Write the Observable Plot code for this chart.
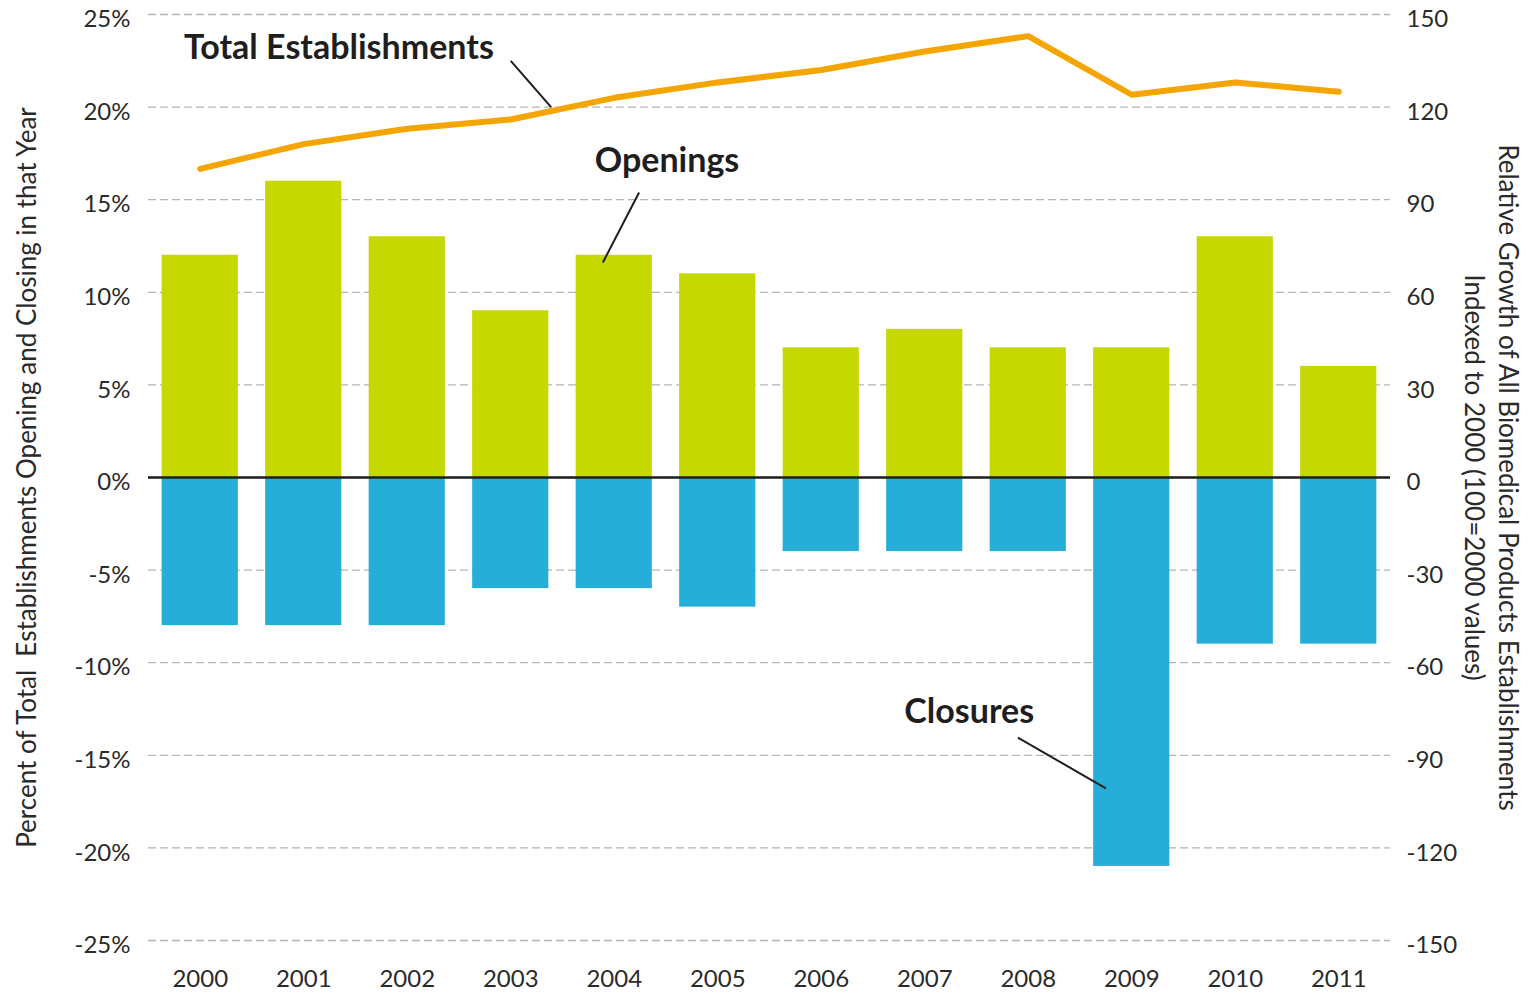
<!DOCTYPE html>
<html>
<head>
<meta charset="utf-8">
<script src="https://cdn.jsdelivr.net/npm/d3@7"></script>
<script src="https://cdn.jsdelivr.net/npm/@observablehq/plot@0.6"></script>
<style>
  html, body { margin: 0; padding: 0; background: #fff; }
  #chart svg { display: block; }
</style>
</head>
<body>
<div id="chart"></div>
<script>
// ---- Data ----
const years = [2000, 2001, 2002, 2003, 2004, 2005, 2006, 2007, 2008, 2009, 2010, 2011];
const openings = [12, 16, 13, 9, 12, 11, 7, 8, 7, 7, 13, 6];          // % of total establishments
const closures = [-8, -8, -8, -6, -6, -7, -4, -4, -4, -21, -9, -9];   // % of total establishments
const totalIndex = [100, 108, 113, 116, 123, 128, 132, 138, 143, 124, 128, 125]; // index, 2000 = 100
const leftTicks = [25, 20, 15, 10, 5, 0, -5, -10, -15, -20, -25];
const rightTicks = [150, 120, 90, 60, 30, 0, -30, -60, -90, -120, -150];
const rightPerLeft = 6; // 30 index points per 5 percentage points

const leftTitle = "Percent of Total  Establishments Opening and Closing in that Year";
const rightTitle1 = "Relative Growth of All Biomedical Products Establishments";
const rightTitle2 = "Indexed to 2000 (100=2000 values)";

const barData = years.flatMap((y, i) => [
  {year: y, value: openings[i], kind: "Openings"},
  {year: y, value: closures[i], kind: "Closures"}
]);
const lineData = years.map((y, i) => ({year: y, index: totalIndex[i]}));

// annotation labels (data coordinates)
const notes = [
  {text: "Total Establishments", x: 2001.34, y: 23.2},
  {text: "Openings", x: 2004.51, y: 17.06},
  {text: "Closures", x: 2007.43, y: -12.69}
];
const leaders = [
  {x1: 2003.0, y1: 22.5, x2: 2003.39, y2: 20.0},
  {x1: 2004.24, y1: 15.39, x2: 2003.89, y2: 11.61},
  {x1: 2007.9, y1: -14.04, x2: 2008.75, y2: -16.79}
];

const font = "Lato, 'Open Sans', sans-serif";
const half = 0.368;

const chart = Plot.plot({
  width: 1530,
  height: 995,
  marginLeft: 148,
  marginRight: 140,
  marginTop: 14,
  marginBottom: 55,
  style: {fontFamily: font, fontSize: "24px", color: "#2a2a2a", background: "#fff"},
  x: {domain: [1999.5, 2011.5], axis: null},
  y: {domain: [-25, 25], axis: null},
  marks: [
    Plot.gridY(leftTicks, {stroke: "#b5b5b5", strokeOpacity: 1, strokeWidth: 1.3, strokeDasharray: "8,4"}),
    Plot.rectY(barData, {
      x1: d => d.year - half, x2: d => d.year + half,
      y1: 0, y2: "value",
      fill: d => d.kind === "Openings" ? "#C5D800" : "#27AED8"
    }),
    Plot.ruleY([0], {stroke: "#1e1e1e", strokeWidth: 2.5}),
    Plot.line(lineData, {
      x: "year", y: d => d.index / rightPerLeft,
      stroke: "#F5A500", strokeWidth: 6, strokeLinejoin: "round", strokeLinecap: "round"
    }),
    Plot.link(leaders, {x1: "x1", y1: "y1", x2: "x2", y2: "y2", stroke: "#1e1e1e", strokeWidth: 2}),
    Plot.text(notes, {
      x: "x", y: "y", text: "text", textAnchor: "middle",
      fontSize: 34, fontWeight: "bold", fill: "#1e1e1e"
    }),
    Plot.axisY({anchor: "left", ticks: leftTicks, tickSize: 0, tickPadding: 18, dy: 5,
      tickFormat: d => `${d}%`, label: null, fill: "#2a2a2a"}),
    Plot.axisY({anchor: "right", ticks: rightTicks.map(v => v / rightPerLeft), tickSize: 0, tickPadding: 16, dy: 5,
      tickFormat: d => `${Math.round(d * rightPerLeft)}`, label: null, fill: "#2a2a2a"}),
    Plot.axisX({anchor: "bottom", ticks: years, tickSize: 0, tickPadding: 29,
      tickFormat: d => `${d}`, label: null, fill: "#2a2a2a"}),
    Plot.text([leftTitle], {frameAnchor: "left", dx: -121, rotate: -90, textAnchor: "middle", fontSize: 26, fill: "#2a2a2a"}),
    Plot.text([rightTitle1], {frameAnchor: "right", dx: 117, rotate: 90, textAnchor: "middle", fontSize: 26, fill: "#2a2a2a"}),
    Plot.text([rightTitle2], {frameAnchor: "right", dx: 83, rotate: 90, textAnchor: "middle", fontSize: 26, fill: "#2a2a2a"})
  ]
});
document.getElementById("chart").appendChild(chart);
</script>
</body>
</html>
